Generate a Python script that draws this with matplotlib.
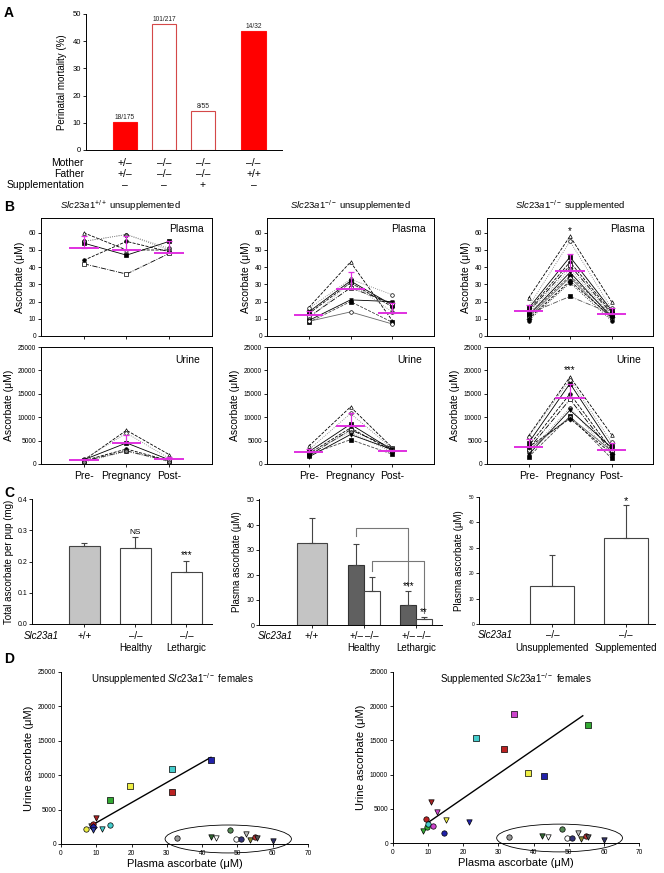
import matplotlib
matplotlib.use('Agg')
import matplotlib.pyplot as plt
from matplotlib.patches import Ellipse
from matplotlib.transforms import blended_transform_factory as btf

plt.rcParams['font.family'] = ['Liberation Sans', 'DejaVu Sans']
plt.rcParams['mathtext.fontset'] = 'custom'
plt.rcParams['mathtext.rm'] = 'Liberation Sans'
plt.rcParams['mathtext.it'] = 'Liberation Sans:italic'
plt.rcParams['mathtext.bf'] = 'Liberation Sans:bold'
plt.rcParams['axes.linewidth'] = 0.7

# ---------------- DATA ----------------
# Panel A
a_pos = [1, 2, 3, 4.3]
a_vals = [10.3, 46.5, 14.5, 43.8]
a_labels = ['18/175', '101/217', '8/55', '14/32']
a_filled = [True, False, False, True]
a_mother = ['+/–', '–/–', '–/–', '–/–']
a_father = ['+/–', '–/–', '–/–', '+/+']
a_supp = ['–', '–', '+', '–']

# Panel B  (each row: Pre, Pregnancy, Post for one mouse)
b_xlabels = ['Pre-', 'Pregnancy', 'Post-']
b1_plasma = [[60, 50, 50], [55, 59, 50], [54, 47, 55], [44, 55, 49], [42, 36, 48], [55, 59, 51]]
b1_urine = [[800, 7200, 2000], [1000, 6600, 1200], [900, 4500, 900], [700, 3200, 700],
            [600, 2800, 600], [400, 2700, 500]]
b2_plasma = [[16.5, 43, 9], [16, 33, 24], [14, 32, 18], [13, 31, 17], [11, 28, 19],
             [10, 31, 14], [9, 21, 20], [8, 20, 8], [8.5, 14, 7]]
b2_urine = [[3800, 12200, 3500], [3000, 10800, 3300], [2600, 8500, 3000], [2200, 7700, 2800],
            [1800, 7300, 3400], [2400, 6800, 2500], [1500, 6300, 3100], [2000, 5200, 2100]]
b3_plasma = [[22, 58, 20], [17, 55, 16], [16, 46, 15], [15, 43, 14], [14, 41, 13], [13, 39, 12],
             [12, 37, 11], [12, 35, 12], [11, 34, 10], [10, 32, 11], [9, 31, 9], [13, 23, 13]]
b3_urine = [[6000, 18600, 6300], [5800, 18000, 4700], [4500, 17200, 3800], [3800, 15000, 3000],
            [3200, 13800, 2500], [2500, 12000, 2000], [2000, 11500, 3500], [1500, 10200, 1200],
            [3000, 10000, 2800], [3600, 9700, 2200]]
b1_plasma_mean = [51.3, 50.2, 48.2]; b1_plasma_sd = [6.8, 8.0, 7.0]
b1_urine_mean = [750, 4500, 1000]; b1_urine_sd = [300, 1800, 500]
b2_plasma_mean = [12, 27.5, 13.5]; b2_plasma_sd = [2.5, 9.5, 5.5]
b2_urine_mean = [2500, 8100, 2700]; b2_urine_sd = [700, 2700, 300]
b3_plasma_mean = [14.5, 38, 12.5]; b3_plasma_sd = [3.5, 9.5, 3.5]
b3_urine_mean = [3700, 14000, 2900]; b3_urine_sd = [1600, 3200, 1600]

# Panel C
c1_vals = [0.25, 0.242, 0.167]; c1_err = [0.01, 0.036, 0.035]
c1_geno = ['+/+', '–/–', '–/–']; c1_state = ['', 'Healthy', 'Lethargic']
c2_wt_val = 33.0; c2_wt_err = 10.0
c2_het_vals = [24.0, 8.0]; c2_het_err = [8.5, 5.5]
c2_ko_vals = [13.7, 2.5]; c2_ko_err = [5.5, 0.8]
c2_groups = ['Healthy', 'Lethargic']
c3_vals = [15.0, 33.7]; c3_err = [12.2, 13.3]
c3_groups = ['Unsupplemented', 'Supplemented']

# Panel D (x = plasma, y = urine)
d1_x = [7, 8.5, 9, 9, 9, 10, 11.5, 14, 14, 19.5, 31.5, 31.5, 42.5]
d1_y = [2200, 2600, 2900, 2400, 2100, 3800, 2200, 2800, 6400, 8500, 10900, 7600, 12200]
d1_m = ['o', 'v', 'o', 'D', 'v', 'v', 'v', 'o', 's', 's', 's', 's', 's']
d1_c = ['#EEEE44', '#777777', '#BB2222', '#2222AA', '#3344AA', '#AA2222', '#44CCCC',
        '#44CCCC', '#33AA33', '#EEEE44', '#44CCCC', '#BB2222', '#2222AA']
d1_fit_x = [9, 42.5]; d1_fit_y = [2800, 12600]

d2_x = [8.5, 9.5, 9.8, 10, 11.5, 10.8, 12.5, 14.5, 15, 21.5, 23.5, 31.5, 34.5, 38.5, 43, 55.5]
d2_y = [1700, 3500, 2300, 2800, 2500, 6000, 4500, 1400, 3300, 3000, 15300, 13700, 18800,
        10300, 9800, 17300]
d2_m = ['v', 'o', 'o', 'o', 'o', 'v', 'v', 'o', 'v', 'v', 's', 's', 's', 's', 's', 's']
d2_c = ['#33AA33', '#BB2222', '#33AA33', '#44CCCC', '#CC44CC', '#AA2222', '#CC44CC',
        '#2222AA', '#EEEE44', '#2222AA', '#44CCCC', '#BB2222', '#CC44CC', '#EEEE44',
        '#2222AA', '#33AA33']
d2_fit_x = [10, 54]; d2_fit_y = [3000, 18600]

wt_x = [33, 42.5, 44, 48, 49.5, 51, 52.5, 53.5, 55, 55.5, 60]
wt_y = [900, 1000, 900, 2000, 700, 750, 1500, 600, 1000, 900, 500]
wt_m = ['o', 'v', 'v', 'o', 'o', 'o', 'v', 'v', 'o', 'v', 'v']
wt_c = ['#999999', '#336633', 'white', '#558855', 'white', '#333377', '#BBBBBB',
        '#888833', '#BB3333', '#555555', '#333366']

# ---------------- FIGURE ----------------
W, H = 664, 873
fig = plt.figure(figsize=(W / 100, H / 100), dpi=100)


def ax_px(l, t, r, b):
    return fig.add_axes([l / W, 1 - b / H, (r - l) / W, (b - t) / H])


def ftext(x, y, s, **kw):
    fig.text(x / W, 1 - y / H, s, **kw)


def fpx(y):
    return 1 - y / H


def clean(ax, fs=5):
    ax.spines['top'].set_visible(False)
    ax.spines['right'].set_visible(False)
    ax.tick_params(axis='y', labelsize=fs, length=2, width=0.6, pad=1.5, direction='out')


# ---- Panel A ----
ftext(4, 6, 'A', fontsize=10, fontweight='bold', va='top')
axA = ax_px(86, 14, 282, 150)
for p, v, lab, f in zip(a_pos, a_vals, a_labels, a_filled):
    axA.bar(p, v, width=0.62, color='#FF0000' if f else 'white',
            edgecolor='#FF1010' if f else '#D44848', linewidth=0.8)
    axA.text(p, v + 0.3, lab, ha='center', va='bottom', fontsize=4.8, color='#222222')
axA.set_xlim(0, 5.03)
axA.set_ylim(0, 50)
axA.set_yticks([0, 10, 20, 30, 40, 50])
axA.set_xticks([])
clean(axA, 5.5)
axA.set_ylabel('Perinatal mortality (%)', fontsize=7, labelpad=4)
trA = btf(axA.transData, fig.transFigure)
for row, (name, vals) in enumerate([('Mother', a_mother), ('Father', a_father),
                                     ('Supplementation', a_supp)]):
    y = 163 + row * 11
    ftext(84, y, name, fontsize=7.5, ha='right', va='center')
    for p, s in zip(a_pos, vals):
        axA.text(p, fpx(y), s, transform=trA, fontsize=7.5, ha='center', va='center')

# ---- Panel B ----
ftext(4, 200, 'B', fontsize=10, fontweight='bold', va='top')
styles = [('--', 'black', '^', 'white'), (':', '#777777', 'o', 'white'), ('-', 'black', 's', 'black'),
          ('--', 'black', 'o', 'black'), ('-.', 'black', 's', 'white'), (':', '#888888', 'o', '#888888'),
          ('-', 'black', 'v', 'black'), ('--', '#444444', 's', 'black'), ('-', '#666666', 'o', 'white'),
          ('--', 'black', 'D', 'black'), (':', 'black', 'o', 'black'), ('-.', '#555555', 's', 'black')]
b_cols = [(41, 212), (267, 434), (487, 653)]
b_titles = [r'$\mathit{Slc23a1}^{+/+}$ unsupplemented',
            r'$\mathit{Slc23a1}^{-/-}$ unsupplemented',
            r'$\mathit{Slc23a1}^{-/-}$ supplemented']
b_plasma = [b1_plasma, b2_plasma, b3_plasma]
b_urine = [b1_urine, b2_urine, b3_urine]
b_pm = [b1_plasma_mean, b2_plasma_mean, b3_plasma_mean]
b_ps = [b1_plasma_sd, b2_plasma_sd, b3_plasma_sd]
b_um = [b1_urine_mean, b2_urine_mean, b3_urine_mean]
b_us = [b1_urine_sd, b2_urine_sd, b3_urine_sd]
b_x = [1, 2, 3]
mag = '#E030E0'


def draw_b(ax, data, mean, sd):
    for i, m in enumerate(data):
        ls, c, mk, mfc = styles[i % len(styles)]
        ax.plot(b_x, m, linestyle=ls, color=c, lw=0.6, marker=mk, ms=2.6,
                mfc=mfc, mec='black', mew=0.5, zorder=2)
    for x, mu, s in zip(b_x, mean, sd):
        ax.hlines(mu, x - 0.35, x + 0.35, color=mag, lw=1.4, zorder=3)
        ax.errorbar(x, mu, yerr=[[0], [s]], color=mag, lw=0.9, capsize=2.5,
                    capthick=0.9, zorder=3)


for k, (l, r) in enumerate(b_cols):
    axp = ax_px(l, 218, r, 336)
    axu = ax_px(l, 347, r, 464)
    draw_b(axp, b_plasma[k], b_pm[k], b_ps[k])
    draw_b(axu, b_urine[k], b_um[k], b_us[k])
    axp.set_ylim(0, 68.6)
    axp.set_yticks([0, 10, 20, 30, 40, 50, 60])
    axu.set_ylim(0, 25000)
    axu.set_yticks([0, 5000, 10000, 15000, 20000, 25000])
    for ax in (axp, axu):
        ax.set_xlim(0, 4)
        ax.set_xticks(b_x)
        ax.tick_params(axis='both', labelsize=4.8, length=2, width=0.6, pad=1.5)
        ax.set_ylabel('Ascorbate (μM)', fontsize=7.5, labelpad=3)
    axp.set_xticklabels([])
    axu.set_xticklabels(b_xlabels, fontsize=7.5)
    axu.tick_params(axis='x', pad=3)
    axp.text(0.95, 0.91, 'Plasma', transform=axp.transAxes, ha='right', va='center', fontsize=7.5)
    axu.text(0.93, 0.89, 'Urine', transform=axu.transAxes, ha='right', va='center', fontsize=7.5)
    ftext((l + r) / 2 - (6 if k == 0 else 0), 206, b_titles[k], ha='center', va='center', fontsize=6.8)
    if k == 2:
        axp.text(2, 58, '*', ha='center', va='bottom', fontsize=7)
        axu.text(2, 18900, '***', ha='center', va='bottom', fontsize=7)

# ---- Panel C ----
ftext(4, 486, 'C', fontsize=10, fontweight='bold', va='top')
edge = '#444444'
axc1 = ax_px(32, 499, 212, 624)
c1_x = [1, 2, 3]
for x, v, e, i in zip(c1_x, c1_vals, c1_err, range(3)):
    axc1.bar(x, v, width=0.6, color='#C4C4C4' if i == 0 else 'white', edgecolor=edge, lw=0.8)
    axc1.errorbar(x, v, yerr=[[0], [e]], color=edge, lw=0.8, capsize=2.5, capthick=0.8)
axc1.text(2, 0.28, 'NS', ha='center', va='bottom', fontsize=6)
axc1.text(3, 0.203, '***', ha='center', va='bottom', fontsize=7)
axc1.set_xlim(-0.02, 3.5)
axc1.set_ylim(0, 0.4)
axc1.set_yticks([0, 0.1, 0.2, 0.3, 0.4])
axc1.set_yticklabels(['0.0', '0.1', '0.2', '0.3', '0.4'])
axc1.set_xticks(c1_x)
axc1.set_xticklabels([])
clean(axc1, 5)
axc1.tick_params(axis='x', length=2, width=0.6)
axc1.set_ylabel('Total ascorbate per pup (mg)', fontsize=7, labelpad=2)
tr1 = btf(axc1.transData, fig.transFigure)
ftext(24, 636, 'Slc23a1', fontsize=7, style='italic', ha='left', va='center')
for x, g, s in zip(c1_x, c1_geno, c1_state):
    axc1.text(x, fpx(636), g, transform=tr1, ha='center', va='center', fontsize=7)
    axc1.text(x, fpx(648), s, transform=tr1, ha='center', va='center', fontsize=7)

axc2 = ax_px(259, 499, 442, 625)
c2_x = [2, 3]
off = 0.15
axc2.bar(1, c2_wt_val, width=0.58, color='#C4C4C4', edgecolor=edge, lw=0.8)
axc2.errorbar(1, c2_wt_val, yerr=[[0], [c2_wt_err]], color=edge, lw=0.8, capsize=2.5, capthick=0.8)
for x, v, e in zip(c2_x, c2_het_vals, c2_het_err):
    axc2.bar(x - off, v, width=2 * off, color='#606060', edgecolor='#333333', lw=0.8)
    axc2.errorbar(x - off, v, yerr=[[0], [e]], color=edge, lw=0.8, capsize=2.5, capthick=0.8)
for x, v, e in zip(c2_x, c2_ko_vals, c2_ko_err):
    axc2.bar(x + off, v, width=2 * off, color='white', edgecolor=edge, lw=0.8)
    axc2.errorbar(x + off, v, yerr=[[0], [e]], color=edge, lw=0.8, capsize=2.5, capthick=0.8)
br = '#777777'
axc2.plot([c2_x[0] - off, c2_x[0] - off, c2_x[1] - off, c2_x[1] - off], [35.5, 38.8, 38.8, 15.5],
          color=br, lw=0.8)
axc2.plot([c2_x[0] + off, c2_x[0] + off, c2_x[1] + off, c2_x[1] + off], [21.5, 25.6, 25.6, 5.0],
          color=br, lw=0.8)
axc2.text(c2_x[1] - off, 13.6, '***', ha='center', va='bottom', fontsize=7)
axc2.text(c2_x[1] + off, 3.0, '**', ha='center', va='bottom', fontsize=7)
axc2.set_xlim(-0.02, 3.5)
axc2.set_ylim(0, 50.4)
axc2.set_yticks([0, 10, 20, 30, 40, 50])
axc2.set_xticks([1, 2, 3])
axc2.set_xticklabels([])
clean(axc2, 5)
axc2.tick_params(axis='x', length=2, width=0.6)
axc2.set_ylabel('Plasma ascorbate (μM)', fontsize=7, labelpad=3)
tr2 = btf(axc2.transData, fig.transFigure)
ftext(258, 636, 'Slc23a1', fontsize=7, style='italic', ha='left', va='center')
axc2.text(1, fpx(636), '+/+', transform=tr2, ha='center', va='center', fontsize=7)
for x, g in zip(c2_x, c2_groups):
    axc2.text(x - off, fpx(636), '+/–', transform=tr2, ha='center', va='center', fontsize=7)
    axc2.text(x + off, fpx(636), '–/–', transform=tr2, ha='center', va='center', fontsize=7)
    axc2.text(x, fpx(648), g, transform=tr2, ha='center', va='center', fontsize=7)

axc3 = ax_px(479, 497, 655, 624)
c3_x = [1, 2]
for x, v, e in zip(c3_x, c3_vals, c3_err):
    axc3.bar(x, v, width=0.6, color='white', edgecolor=edge, lw=0.8)
    axc3.errorbar(x, v, yerr=[[0], [e]], color=edge, lw=0.8, capsize=2.5, capthick=0.8)
axc3.text(2, 46.5, '*', ha='center', va='bottom', fontsize=8)
axc3.set_xlim(0, 2.4)
axc3.set_ylim(0, 50)
axc3.set_yticks([0, 10, 20, 30, 40, 50])
axc3.set_xticks(c3_x)
axc3.set_xticklabels([])
clean(axc3, 3.5)
axc3.tick_params(axis='x', length=2, width=0.6)
axc3.set_ylabel('Plasma ascorbate (μM)', fontsize=7, labelpad=3)
tr3 = btf(axc3.transData, fig.transFigure)
ftext(478, 635, 'Slc23a1', fontsize=7, style='italic', ha='left', va='center')
for x, g in zip(c3_x, c3_groups):
    axc3.text(x, fpx(635), '–/–', transform=tr3, ha='center', va='center', fontsize=7)
    axc3.text(x, fpx(648), g, transform=tr3, ha='center', va='center', fontsize=7)

# ---- Panel D ----
ftext(4, 652, 'D', fontsize=10, fontweight='bold', va='top')
d_sets = [((61, 672, 308, 844), d1_x, d1_y, d1_m, d1_c, d1_fit_x, d1_fit_y,
           r'Unsupplemented $\mathit{Slc23a1}^{-/-}$ females', 0.45),
          ((393, 672, 639, 843), d2_x, d2_y, d2_m, d2_c, d2_fit_x, d2_fit_y,
           r'Supplemented $\mathit{Slc23a1}^{-/-}$ females', 0.5)]
for box, xs, ys, ms, cs, fx, fy, title, tx in d_sets:
    ax = ax_px(*box)
    ax.plot(fx, fy, color='black', lw=1.0, zorder=2)
    for x, y, m, c in zip(xs + wt_x, ys + wt_y, ms + wt_m, cs + wt_c):
        ax.scatter([x], [y], marker=m, s=15, c=c, edgecolors='black', linewidths=0.5,
                   zorder=3, clip_on=False)
    ax.add_patch(Ellipse((47.4, 730), 35.8, 4060, fill=False, lw=0.6, ec='black',
                         clip_on=False, zorder=1))
    ax.set_xlim(0, 70)
    ax.set_ylim(0, 25000)
    ax.set_xticks([0, 10, 20, 30, 40, 50, 60, 70])
    ax.set_yticks([0, 5000, 10000, 15000, 20000, 25000])
    clean(ax, 4.8)
    ax.tick_params(axis='x', labelsize=4.8, length=2, width=0.6, pad=2)
    ax.set_xlabel('Plasma ascorbate (μM)', fontsize=8, labelpad=2)
    ax.set_ylabel('Urine ascorbate (μM)', fontsize=8, labelpad=3)
    ax.text(tx, 0.96, title, transform=ax.transAxes, ha='center', va='center', fontsize=7)

fig.savefig('out.png', dpi=100)
